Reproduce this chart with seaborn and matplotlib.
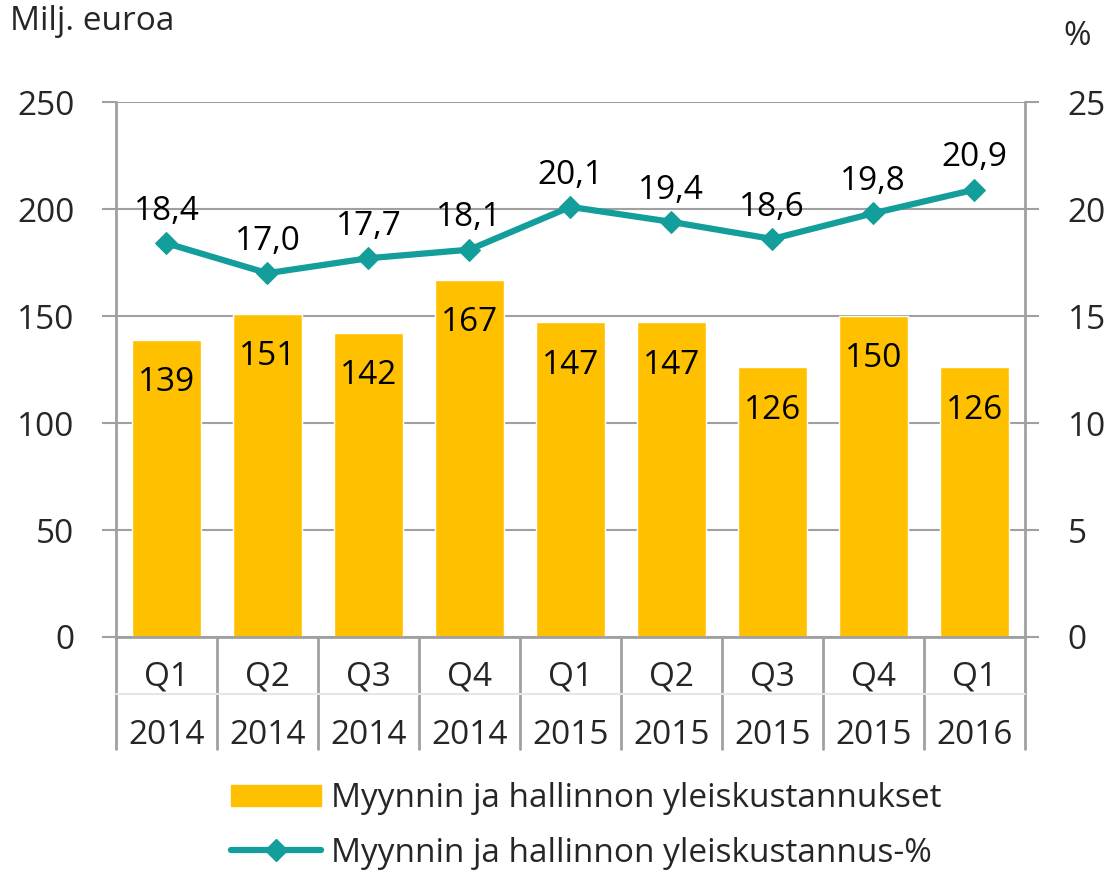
import matplotlib
matplotlib.use("Agg")
import matplotlib.pyplot as plt
import seaborn as sns
import pandas as pd
from matplotlib.patches import Patch
from matplotlib.lines import Line2D

# Data
quarters = ["Q1", "Q2", "Q3", "Q4", "Q1", "Q2", "Q3", "Q4", "Q1"]
years = ["2014", "2014", "2014", "2014", "2015", "2015", "2015", "2015", "2016"]
costs = [139, 151, 142, 167, 147, 147, 126, 150, 126]
cost_pct = [18.4, 17.0, 17.7, 18.1, 20.1, 19.4, 18.6, 19.8, 20.9]

bar_name = "Myynnin ja hallinnon yleiskustannukset"
line_name = "Myynnin ja hallinnon yleiskustannus-%"

df = pd.DataFrame({
    "period": [f"{q} {y}" for q, y in zip(quarters, years)],
    "costs": costs,
    "pct": cost_pct,
})
df["pos"] = range(len(df))

sns.set_theme(style="white")
plt.rcParams["font.family"] = ["Open Sans", "DejaVu Sans"]

BAR = "#FFC000"
TEAL = "#139E9B"
GRID = "#A0A0A0"
FS = 24

fig = plt.figure(figsize=(11.15, 8.72), dpi=100)
ax = fig.add_axes([0.104, 0.2695, 0.815, 0.6135])

sns.barplot(data=df, x="period", y="costs", color=BAR, width=0.68,
            saturation=1, ax=ax, zorder=2)
ax.set_ylim(0, 250)
ax.set_xlim(-0.5, len(df) - 0.5)
ax.set_yticks(range(0, 251, 50))
ax.yaxis.grid(True, color=GRID, linewidth=1.5, zorder=0)
ax.set_axisbelow(True)
ax.set_xlabel("")
ax.set_ylabel("")
ax.set_xticks([])
ax.tick_params(axis="y", labelsize=FS, length=10, width=1.5, color=GRID, pad=20)
for s in ["left", "right", "bottom"]:
    ax.spines[s].set_color(GRID)
    ax.spines[s].set_linewidth(2)
ax.spines["top"].set_visible(False)

for p, v in zip(ax.patches, costs):
    ax.text(p.get_x() + p.get_width() / 2, v - 20, str(v), ha="center",
            va="center", fontsize=FS, color="black", zorder=5)

ax2 = ax.twinx()
sns.lineplot(data=df, x="pos", y="pct", color=TEAL, linewidth=4.5,
             marker="D", markersize=11, markeredgecolor=TEAL, ax=ax2, zorder=4)
ax2.set_ylim(0, 25)
ax2.set_xlim(-0.5, len(df) - 0.5)
ax2.set_yticks(range(0, 26, 5))
ax2.set_xlabel("")
ax2.set_ylabel("")
ax2.tick_params(axis="y", labelsize=FS, length=10, width=1.5, color=GRID, pad=21)
for s in ax2.spines.values():
    s.set_visible(False)

for x, v in zip(df["pos"], cost_pct):
    ax2.annotate(f"{v:.1f}".replace(".", ","), (x, v), xytext=(0, 11),
                 textcoords="offset points", ha="center", va="bottom",
                 fontsize=FS, color="black")

# two-level category axis
trans = ax.get_xaxis_transform()
for i, (q, y) in enumerate(zip(quarters, years)):
    ax.text(i, -0.075, q, transform=trans, ha="center", va="center", fontsize=FS)
    ax.text(i, -0.185, y, transform=trans, ha="center", va="center", fontsize=FS)
for i in range(len(df) + 1):
    ax.plot([i - 0.5, i - 0.5], [0, -0.21], transform=trans, color=GRID,
            linewidth=2, clip_on=False)
ax.plot([-0.5, len(df) - 0.5], [-0.107, -0.107], transform=trans,
        color="#E6E6E6", linewidth=1.5, clip_on=False)

fig.text(0.009, 0.975, "Milj. euroa", fontsize=FS, va="center", ha="left")
fig.text(0.966, 0.958, "%", fontsize=FS, va="center", ha="center")

handles = [
    Patch(facecolor=BAR, edgecolor=BAR),
    Line2D([0], [0], color=TEAL, linewidth=4.5, marker="D", markersize=11,
           solid_capstyle="round"),
]
fig.legend(handles, [bar_name, line_name], loc="center", ncol=1,
           bbox_to_anchor=(0.526, 0.053), frameon=False, fontsize=FS,
           handlelength=2.7, handleheight=0.6, labelspacing=0.65, handletextpad=0.3)

fig.savefig("out.png", dpi=100)
